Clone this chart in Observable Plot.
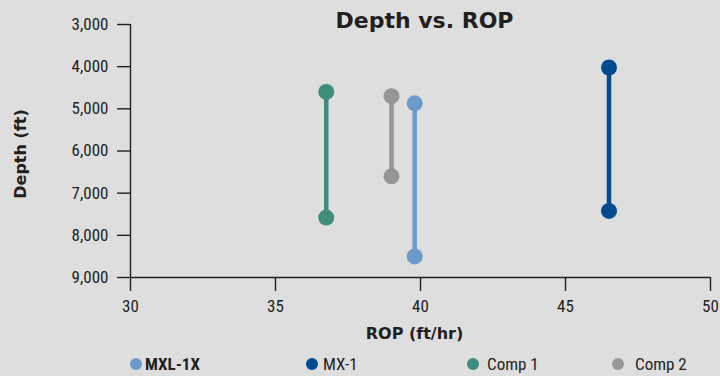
<!DOCTYPE html>
<html>
<head>
<meta charset="utf-8">
<script src="https://cdn.jsdelivr.net/npm/d3@7"></script>
<script src="https://cdn.jsdelivr.net/npm/@observablehq/plot@0.6"></script>
<style>
  html, body { margin: 0; padding: 0; background: #dedede; }
  #wrap { position: relative; width: 720px; height: 376px; overflow: hidden; background: #dedede; }
  #legend { position: absolute; left: 0; top: 352px; width: 720px; height: 24px; }
  .item { position: absolute; top: 0; height: 24px; display: flex; align-items: center;
          font-family: "Roboto Condensed", Roboto, sans-serif; font-size: 17px; color: #231f20; }
  .sw { width: 12px; height: 12px; border-radius: 50%; display: inline-block; }
</style>
</head>
<body>
<div id="wrap">
  <div id="chart"></div>
  <div id="legend"></div>
</div>
<script>
// ---- data ----
const series = ["MXL-1X", "MX-1", "Comp 1", "Comp 2"];
const rop = [39.8, 46.5, 36.75, 39.0];
const depthTop = [4870, 4020, 4600, 4700];
const depthBottom = [8500, 7420, 7580, 6600];
const colors = ["#6a9bcb", "#004b8d", "#3e8d7d", "#969696"];
const xTicks = [30, 35, 40, 45, 50];
const yTicks = [3000, 4000, 5000, 6000, 7000, 8000, 9000];
const titleText = "Depth vs. ROP";
const xLabel = "ROP (ft/hr)";
const yLabel = "Depth (ft)";

// ---- layout ----
const legendLayout = [
  {dot: 136, text: 145, bold: true},
  {dot: 312, text: 323, bold: false},
  {dot: 473, text: 487, bold: false},
  {dot: 618, text: 635, bold: false}
];

const rows = series.map((s, i) => ({series: s, rop: rop[i], top: depthTop[i], bottom: depthBottom[i]}));
const pts = rows.flatMap(r => [
  {series: r.series, rop: r.rop, depth: r.top},
  {series: r.series, rop: r.rop, depth: r.bottom}
]);

const ink = "#231f20";
const narrow = "'Roboto Condensed', Roboto, sans-serif";
const heavy = "'DejaVu Sans', sans-serif";
const fmt = d3.format(",");

const chart = Plot.plot({
  width: 720,
  height: 352,
  marginLeft: 130,
  marginRight: 10,
  marginTop: 24,
  marginBottom: 75,
  style: {background: "transparent", fontFamily: narrow, fontSize: "17px", color: ink},
  x: {domain: [30, 50]},
  y: {domain: [3000, 9000], reverse: true},
  color: {domain: series, range: colors},
  marks: [
    Plot.ruleX([30], {y1: 3000, y2: 9000, stroke: ink, strokeWidth: 1.4}),
    Plot.ruleY([9000], {stroke: ink, strokeWidth: 1.4}),
    Plot.axisX({ticks: xTicks, tickSize: 14, tickPadding: 8, label: null, stroke: ink, strokeWidth: 1.4, strokeOpacity: 1, fill: ink, fontSize: 17}),
    Plot.axisY({ticks: yTicks, tickSize: 13, tickPadding: 9, tickFormat: fmt, label: null, stroke: ink, strokeWidth: 1.4, strokeOpacity: 1, fill: ink, fontSize: 17}),
    Plot.ruleX(rows, {x: "rop", y1: "top", y2: "bottom", stroke: "series", strokeWidth: 4.5}),
    Plot.dot(pts, {x: "rop", y: "depth", fill: "series", r: 8}),
    Plot.text([titleText], {frameAnchor: "top", lineAnchor: "bottom", dx: 4, dy: 3, fontFamily: heavy, fontWeight: 900, fontSize: 22, fill: ink}),
    Plot.text([xLabel], {frameAnchor: "bottom", lineAnchor: "middle", dx: -6, dy: 56, fontFamily: heavy, fontWeight: "bold", fontSize: 16, fill: ink}),
    Plot.text([yLabel], {frameAnchor: "left", textAnchor: "middle", lineAnchor: "middle", rotate: -90, dx: -110, dy: 3, fontFamily: heavy, fontWeight: "bold", fontSize: 16, fill: ink})
  ]
});
document.getElementById("chart").appendChild(chart);

const legend = document.getElementById("legend");
series.forEach((s, i) => {
  const L = legendLayout[i];
  const sw = document.createElement("div");
  sw.className = "item";
  sw.style.left = (L.dot - 6) + "px";
  sw.innerHTML = `<span class="sw" style="background:${colors[i]}"></span>`;
  legend.appendChild(sw);
  const t = document.createElement("div");
  t.className = "item";
  t.style.left = L.text + "px";
  t.style.fontWeight = L.bold ? "bold" : "normal";
  t.textContent = s;
  legend.appendChild(t);
});
</script>
</body>
</html>
